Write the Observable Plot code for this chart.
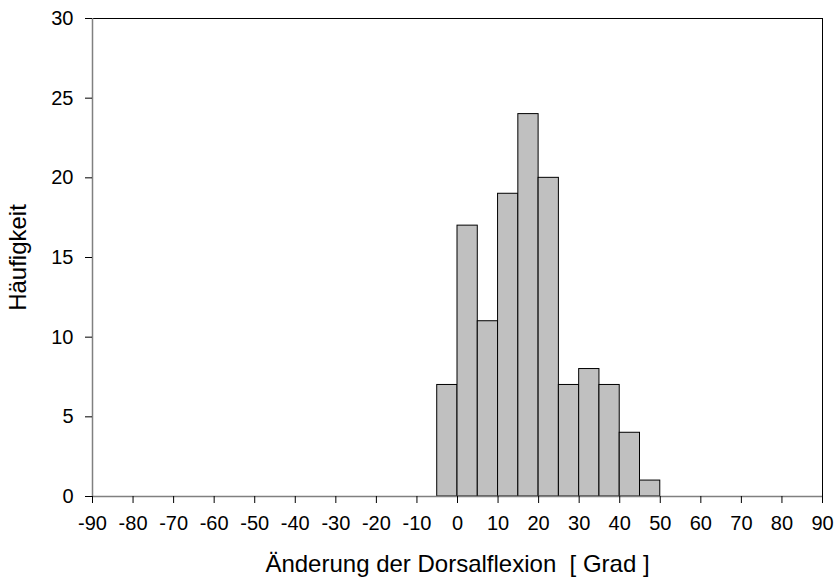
<!DOCTYPE html>
<html>
<head>
<meta charset="utf-8">
<script src="https://cdn.jsdelivr.net/npm/d3@7"></script>
<script src="https://cdn.jsdelivr.net/npm/@observablehq/plot@0.6"></script>
<style>
  html, body { margin: 0; padding: 0; background: #fff; }
  #chart svg { display: block; }
</style>
</head>
<body>
<div id="chart"></div>
<script>
const binStarts = [-5, 0, 5, 10, 15, 20, 25, 30, 35, 40, 45];
const binWidth = 5;
const counts = [7, 17, 11, 19, 24, 20, 7, 8, 7, 4, 1];
const xTicks = [-90, -80, -70, -60, -50, -40, -30, -20, -10, 0, 10, 20, 30, 40, 50, 60, 70, 80, 90];
const yTicks = [0, 5, 10, 15, 20, 25, 30];
const xTitle = "Änderung der Dorsalflexion\u00a0\u00a0[ Grad ]";
const yTitle = "Häufigkeit";

const bins = binStarts.map((s, i) => ({x1: s, x2: s + binWidth, y: counts[i]}));

const chart = Plot.plot({
  width: 836,
  height: 578,
  marginLeft: 92,
  marginRight: 14,
  marginTop: 18,
  marginBottom: 82,
  style: {fontFamily: "Arial, 'Liberation Sans', sans-serif", fontSize: "20px", color: "#000", background: "#fff"},
  x: {domain: [-90, 90]},
  y: {domain: [0, 30]},
  marks: [
    Plot.rectY(bins, {x1: "x1", x2: "x2", y: "y", fill: "#c0c0c0", stroke: "#000", strokeWidth: 1, inset: 0}),
    Plot.ruleY([30], {stroke: "#000", strokeWidth: 1}),
    Plot.ruleX([90], {stroke: "#000", strokeWidth: 1}),
    Plot.ruleY([0], {stroke: "#808080", strokeWidth: 1.5}),
    Plot.ruleX([-90], {stroke: "#808080", strokeWidth: 1.5}),
    Plot.axisX({ticks: xTicks, tickSize: 7, tickPadding: 12, fontSize: 20, tickFormat: d => String(d).replace("−", "-"), label: null, stroke: "#000"}),
    Plot.axisY({ticks: yTicks, tickSize: 7, tickPadding: 12, fontSize: 20, tickFormat: d => String(d), label: null, stroke: "#000"}),
    Plot.text([xTitle], {frameAnchor: "bottom", dy: 68, fontSize: 24, text: d => d, textAnchor: "middle", lineAnchor: "middle"}),
    Plot.text([yTitle], {frameAnchor: "left", dx: -74, rotate: -90, fontSize: 24, text: d => d, textAnchor: "middle", lineAnchor: "middle"})
  ]
});
document.getElementById("chart").appendChild(chart);
</script>
</body>
</html>
